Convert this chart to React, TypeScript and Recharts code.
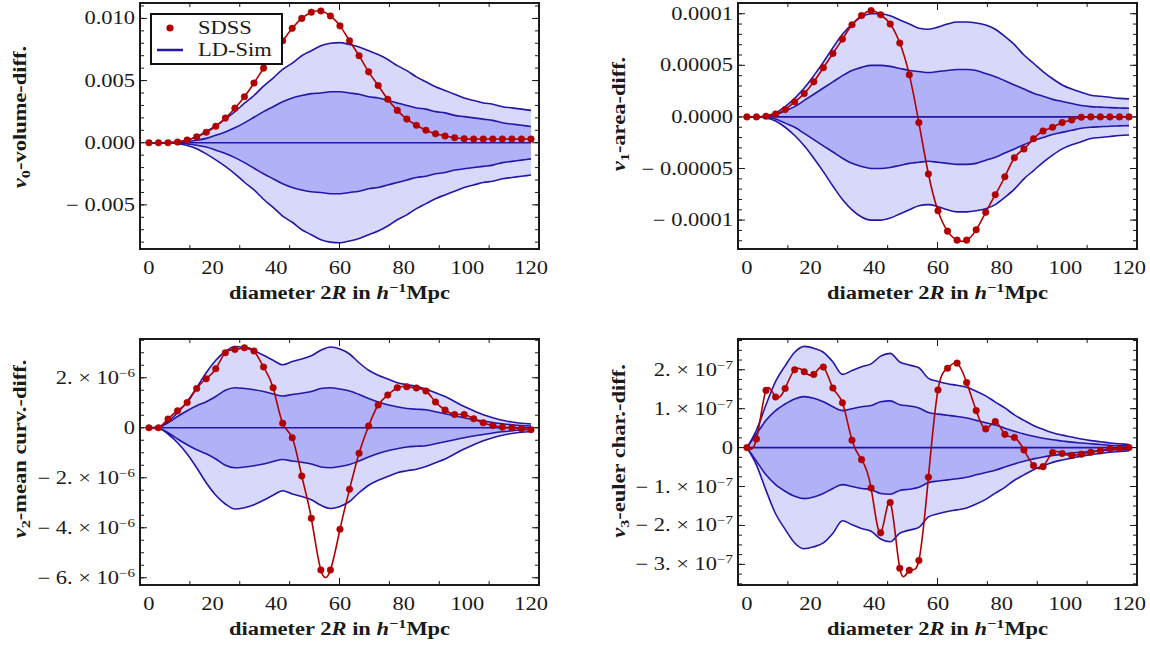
import React from 'react';
import { ComposedChart, Area, Line, XAxis, YAxis, ReferenceLine, Legend } from 'recharts';

// diameter 2R in h^-1 Mpc, same sampling for every panel
const diameters = [0, 3, 6, 9, 12, 15, 18, 21, 24, 27, 30, 33, 36, 39, 42, 45, 48, 51, 54, 57, 60, 63, 66, 69, 72, 75, 78, 81, 84, 87, 90, 93, 96, 99, 102, 105, 108, 111, 114, 117, 120];

// v0 volume
const v0Sdss = [0, 0, 0, 0.00005, 0.00022, 0.00047, 0.00084, 0.00132, 0.00198, 0.00278, 0.0037, 0.0048, 0.006, 0.0072, 0.0082, 0.0092, 0.01, 0.0105, 0.0106, 0.0102, 0.0094, 0.0082, 0.007, 0.0057, 0.0046, 0.0035, 0.0026, 0.0019, 0.0014, 0.001, 0.00072, 0.00054, 0.0004, 0.00032, 0.0003, 0.0003, 0.0003, 0.0003, 0.0003, 0.0003, 0.0003];
const v0Outer = [0, 0, 0.00002, 0.00008, 0.00022, 0.00048, 0.0009, 0.00138, 0.0019, 0.0025, 0.00318, 0.0038, 0.00455, 0.0052, 0.0059, 0.0064, 0.007, 0.0074, 0.0078, 0.008, 0.00805, 0.0079, 0.0077, 0.0074, 0.0071, 0.0067, 0.0062, 0.0058, 0.0053, 0.0049, 0.0045, 0.0042, 0.0039, 0.0036, 0.0034, 0.0032, 0.0031, 0.0029, 0.0028, 0.0027, 0.0026];
const v0Inner = [0, 0, 0.00001, 0.00004, 0.0001, 0.0002, 0.00035, 0.0006, 0.00087, 0.0012, 0.0016, 0.00205, 0.0025, 0.0029, 0.0033, 0.0036, 0.0038, 0.00395, 0.004, 0.0041, 0.0041, 0.004, 0.0039, 0.0037, 0.0036, 0.0034, 0.0032, 0.003, 0.0028, 0.0027, 0.0025, 0.0024, 0.0022, 0.0021, 0.002, 0.0019, 0.0018, 0.0016, 0.0015, 0.0014, 0.0013];

// v1 area
const v1Sdss = [0, 0, 0.7e-6, 2.9e-6, 7.1e-6, 14.6e-6, 22.6e-6, 34e-6, 47.6e-6, 61.5e-6, 75.4e-6, 89.3e-6, 98.3e-6, 103e-6, 99e-6, 90e-6, 71.6e-6, 40.8e-6, -5.5e-6, -55.3e-6, -91e-6, -110.7e-6, -119.4e-6, -119.4e-6, -109.4e-6, -92.5e-6, -75.4e-6, -58e-6, -39.5e-6, -31.1e-6, -21.1e-6, -13.6e-6, -10e-6, -5.5e-6, -2.9e-6, -0.3e-6, 0, 0, 0, 0, 0];
const v1Outer = [0, 0, 1e-6, 4e-6, 10e-6, 18e-6, 28e-6, 40e-6, 53e-6, 67e-6, 80e-6, 90e-6, 97e-6, 100e-6, 100e-6, 98e-6, 94e-6, 90e-6, 86e-6, 85e-6, 87e-6, 90e-6, 92e-6, 92e-6, 91e-6, 89e-6, 85e-6, 78e-6, 70e-6, 60e-6, 52e-6, 44e-6, 37e-6, 31e-6, 27e-6, 24e-6, 21e-6, 20e-6, 19e-6, 18e-6, 17.5e-6];
const v1Inner = [0, 0, 0.5e-6, 2e-6, 6e-6, 10e-6, 16e-6, 22e-6, 28e-6, 34e-6, 40e-6, 45e-6, 48e-6, 50e-6, 50e-6, 49e-6, 47e-6, 45e-6, 44e-6, 43e-6, 44e-6, 45e-6, 46e-6, 46e-6, 45e-6, 42e-6, 39e-6, 35e-6, 31e-6, 27e-6, 23e-6, 20e-6, 17e-6, 15e-6, 13e-6, 11e-6, 10e-6, 9.5e-6, 9e-6, 8.7e-6, 8.4e-6];

// v2 mean curvature, in units of 10^-6
const v2Sdss = [0, 0, 0.35, 0.68, 1.01, 1.57, 1.96, 2.36, 3.0, 3.13, 3.2, 3.07, 2.43, 1.6, 0.18, -0.4, -1.93, -3.62, -5.69, -5.69, -4.06, -2.46, -1.02, 0.07, 0.91, 1.31, 1.6, 1.64, 1.59, 1.47, 1.03, 0.71, 0.53, 0.53, 0.36, 0.2, 0.09, 0.02, 0, -0.04, -0.08];
const v2Outer = [0, 0.02, 0.25, 0.6, 1.05, 1.6, 2.2, 2.7, 3.05, 3.25, 3.2, 3.08, 2.9, 2.7, 2.52, 2.65, 2.75, 2.88, 3.1, 3.23, 3.15, 2.95, 2.6, 2.3, 2.1, 1.95, 1.8, 1.72, 1.66, 1.55, 1.4, 1.25, 1.05, 0.85, 0.68, 0.52, 0.4, 0.3, 0.23, 0.18, 0.15];
const v2Inner = [0, 0.02, 0.2, 0.45, 0.68, 0.88, 1.04, 1.25, 1.5, 1.6, 1.57, 1.52, 1.45, 1.35, 1.27, 1.33, 1.38, 1.45, 1.57, 1.6, 1.55, 1.47, 1.33, 1.17, 1.03, 0.92, 0.84, 0.77, 0.74, 0.72, 0.64, 0.56, 0.48, 0.4, 0.33, 0.27, 0.21, 0.16, 0.12, 0.09, 0.07];

// v3 euler characteristic, in units of 10^-7
const v3Sdss = [0, 0.22, 1.47, 1.3, 1.52, 2.0, 1.95, 1.88, 2.07, 1.53, 1.15, 0.19, -0.31, -1.04, -2.19, -1.41, -3.1, -3.15, -2.9, -0.76, 1.48, 2.04, 2.17, 1.67, 0.95, 0.48, 0.67, 0.34, 0.26, -0.06, -0.46, -0.49, -0.13, -0.15, -0.2, -0.17, -0.12, -0.08, -0.03, -0.03, 0];
const v3Outer = [0, 0.45, 1.1, 1.7, 2.1, 2.45, 2.6, 2.55, 2.45, 2.2, 1.88, 1.98, 2.08, 2.15, 2.35, 2.42, 2.2, 2.12, 2.05, 1.78, 1.7, 1.64, 1.6, 1.55, 1.45, 1.33, 1.17, 1.02, 0.84, 0.7, 0.57, 0.47, 0.38, 0.32, 0.27, 0.22, 0.18, 0.15, 0.12, 0.1, 0.08];
const v3Inner = [0, 0.35, 0.7, 0.95, 1.12, 1.25, 1.31, 1.27, 1.18, 1.05, 0.95, 1.0, 1.05, 1.08, 1.18, 1.2, 1.1, 1.07, 1.02, 0.9, 0.86, 0.83, 0.8, 0.76, 0.7, 0.64, 0.58, 0.5, 0.42, 0.35, 0.29, 0.24, 0.2, 0.17, 0.14, 0.12, 0.1, 0.08, 0.06, 0.05, 0.04];

// ticks
type TickLabel = string | { m: string; e: string };

const xTicks = [0, 20, 40, 60, 80, 100, 120];
const xMinorTicks = [0, 5, 10, 15, 20, 25, 30, 35, 40, 45, 50, 55, 60, 65, 70, 75, 80, 85, 90, 95, 100, 105, 110, 115, 120];

const v0Ticks = [-0.005, 0, 0.005, 0.01];
const v0Labels: TickLabel[] = ['\u2212 0.005', '0.000', '0.005', '0.010'];
const v1Ticks = [-0.0001, -0.00005, 0, 0.00005, 0.0001];
const v1Labels: TickLabel[] = ['\u2212 0.0001', '\u2212 0.00005', '0.0000', '0.00005', '0.0001'];
const v2Ticks = [-6, -4, -2, 0, 2];
const v2Labels: TickLabel[] = [
  { m: '\u2212 6.', e: '\u22126' },
  { m: '\u2212 4.', e: '\u22126' },
  { m: '\u2212 2.', e: '\u22126' },
  '0',
  { m: '2.', e: '\u22126' },
];
const v3Ticks = [-3, -2, -1, 0, 1, 2];
const v3Labels: TickLabel[] = [
  { m: '\u2212 3.', e: '\u22127' },
  { m: '\u2212 2.', e: '\u22127' },
  { m: '\u2212 1.', e: '\u22127' },
  '0',
  { m: '1.', e: '\u22127' },
  { m: '2.', e: '\u22127' },
];

const FONT = "'Liberation Serif', 'Times New Roman', Times, serif";
const STRETCH = 1.25;
const INK = '#1a1a1a';
const SIM = '#2416a6';
const OUTER_FILL = '#d8d8fa';
const INNER_FILL = '#b1b1f8';
const RED = '#b10000';
const X_DOMAIN: [number, number] = [-2.8, 122.5];
const THIN = 0.01; // tick-only axes need a non-zero size to be drawn

function tickRange(lo: number, hi: number, step: number) {
  const out: number[] = [];
  for (let k = Math.ceil(lo / step - 1e-9); k * step <= hi + step * 1e-6; k++) out.push(k * step);
  return out;
}

type Row = { d: number; sdss: number; outer: [number, number]; inner: [number, number] };

function buildRows(sdss: number[], outer: number[], inner: number[]): Row[] {
  return diameters.map((d, i) => ({
    d,
    sdss: sdss[i],
    outer: [-outer[i], outer[i]],
    inner: [-inner[i], inner[i]],
  }));
}

const NoLabel = () => null;
const textStyle: React.CSSProperties = { fontFamily: FONT };

function XTick(props: any) {
  const { x, y, payload } = props;
  return (
    <text transform={`translate(${x},${y + 17}) scale(${STRETCH},1)`} textAnchor="middle" style={textStyle} fontSize={18} fill={INK}>
      {payload.value}
    </text>
  );
}

function makeYTick(ticks: number[], labels: TickLabel[]) {
  return (props: any) => {
    const { x, y, payload } = props;
    const lab = labels[ticks.indexOf(payload.value)];
    if (lab === undefined) return null;
    return (
      <text transform={`translate(${x + 3},${y + 6}) scale(${STRETCH},1)`} textAnchor="end" style={textStyle} fontSize={18} fill={INK}>
        {typeof lab === 'string' ? (
          lab
        ) : (
          <>
            {lab.m + ' \u00d7 10'}
            <tspan dy={-7} fontSize={12}>{lab.e}</tspan>
          </>
        )}
      </text>
    );
  };
}

function XTitle({ cx, y }: { cx: number; y: number }) {
  return (
    <text transform={`translate(${cx},${y}) scale(${STRETCH},1)`} textAnchor="middle" style={textStyle} fontSize={18} fontWeight="bold" fill={INK}>
      diameter 2<tspan fontStyle="italic">R</tspan>{' in '}<tspan fontStyle="italic">h</tspan>
      <tspan dy={-7} fontSize={13}>{'\u22121'}</tspan>
      <tspan dy={7}>Mpc</tspan>
    </text>
  );
}

function YTitle({ x, y, sub, rest }: { x: number; y: number; sub: string; rest: string }) {
  return (
    <text transform={`translate(${x},${y}) rotate(-90) scale(${STRETCH},1)`} textAnchor="middle" style={textStyle} fontSize={18} fontWeight="bold" fill={INK}>
      <tspan fontStyle="italic">v</tspan>
      <tspan dy={4} fontSize={13}>{sub}</tspan>
      <tspan dy={-4}>{rest}</tspan>
    </text>
  );
}

const legendText: React.CSSProperties = {
  position: 'absolute',
  fontFamily: FONT,
  fontSize: 18,
  lineHeight: '18px',
  color: INK,
  whiteSpace: 'nowrap',
  transform: `scaleX(${STRETCH})`,
  transformOrigin: 'left center',
};

function LegendBox() {
  return (
    <div style={{ position: 'relative', width: 133, height: 52, border: '2px solid #111', background: '#fff', boxSizing: 'border-box' }}>
      <svg width={40} height={48} style={{ position: 'absolute', left: 0, top: 0 }}>
        <circle cx={18} cy={13} r={3.6} fill={RED} />
        <line x1={5} x2={31} y1={35} y2={35} stroke={SIM} strokeWidth={2.5} />
      </svg>
      <span style={{ ...legendText, left: 46, top: 4 }}>SDSS</span>
      <span style={{ ...legendText, left: 46, top: 26 }}>LD-Sim</span>
    </div>
  );
}

type PanelProps = {
  left: number;
  top: number;
  width: number;
  height: number;
  plotLeft: number;
  plotRight: number;
  plotTop: number;
  plotBottom: number;
  yDomain: [number, number];
  yTicks: number[];
  yLabels: TickLabel[];
  yStep: number;
  rows: Row[];
  sub: string;
  rest: string;
  titleX: number;
  titleY: number;
  xTitleY: number;
  legend?: boolean;
};

function Panel(p: PanelProps) {
  const yMinor = tickRange(p.yDomain[0], p.yDomain[1], p.yStep);
  const YTick = makeYTick(p.yTicks, p.yLabels);
  const frame = { strokeWidth: 2, strokeLinecap: 'square' as const };
  const common = {
    type: 'number' as const,
    allowDataOverflow: true,
    interval: 0 as const,
    stroke: INK,
    tick: NoLabel,
    tickLine: { stroke: INK, strokeWidth: 1 },
    mirror: true,
  };
  return (
    <div style={{ position: 'absolute', left: p.left, top: p.top, width: p.width, height: p.height }}>
      <ComposedChart
        width={p.width}
        height={p.height}
        data={p.rows}
        margin={{ top: p.plotTop, right: p.width - p.plotRight, bottom: 0, left: 0 }}
      >
        <XAxis
          xAxisId="lab"
          dataKey="d"
          type="number"
          domain={X_DOMAIN}
          allowDataOverflow
          ticks={xTicks}
          interval={0}
          tick={XTick}
          tickLine={false}
          axisLine={false}
          height={p.height - p.plotBottom}
          label={{ content: () => <XTitle cx={(p.plotLeft + p.plotRight) / 2} y={p.xTitleY} /> }}
        />
        <XAxis xAxisId="bM" {...common} domain={X_DOMAIN} ticks={xTicks} height={THIN} tickSize={7} axisLine={frame} />
        <XAxis xAxisId="bm" {...common} domain={X_DOMAIN} ticks={xMinorTicks} height={THIN} tickSize={4} axisLine={false} />
        <XAxis xAxisId="tM" {...common} domain={X_DOMAIN} ticks={xTicks} orientation="top" height={THIN} tickSize={7} axisLine={frame} />
        <XAxis xAxisId="tm" {...common} domain={X_DOMAIN} ticks={xMinorTicks} orientation="top" height={THIN} tickSize={4} axisLine={false} />
        <YAxis
          yAxisId="lab"
          type="number"
          domain={p.yDomain}
          allowDataOverflow
          ticks={p.yTicks}
          interval={0}
          tick={YTick}
          tickLine={false}
          axisLine={false}
          width={p.plotLeft}
          label={{ content: () => <YTitle x={p.titleX} y={p.titleY} sub={p.sub} rest={p.rest} /> }}
        />
        <YAxis yAxisId="lM" {...common} domain={p.yDomain} ticks={p.yTicks} width={THIN} tickSize={7} axisLine={frame} />
        <YAxis yAxisId="lm" {...common} domain={p.yDomain} ticks={yMinor} width={THIN} tickSize={4} axisLine={false} />
        <YAxis yAxisId="rM" {...common} domain={p.yDomain} ticks={p.yTicks} orientation="right" width={THIN} tickSize={7} axisLine={frame} />
        <YAxis yAxisId="rm" {...common} domain={p.yDomain} ticks={yMinor} orientation="right" width={THIN} tickSize={4} axisLine={false} />
        <Area
          xAxisId="lab"
          yAxisId="lab"
          dataKey="outer"
          type="monotone"
          stroke={SIM}
          strokeWidth={1.6}
          fill={OUTER_FILL}
          fillOpacity={1}
          isAnimationActive={false}
        />
        <Area
          xAxisId="lab"
          yAxisId="lab"
          dataKey="inner"
          type="monotone"
          stroke={SIM}
          strokeWidth={1.6}
          fill={INNER_FILL}
          fillOpacity={1}
          isAnimationActive={false}
        />
        <ReferenceLine
          xAxisId="lab"
          yAxisId="lab"
          segment={[{ x: 0, y: 0 }, { x: 120, y: 0 }]}
          stroke={SIM}
          strokeWidth={1.6}
        />
        <Line
          xAxisId="lab"
          yAxisId="lab"
          dataKey="sdss"
          type="natural"
          stroke={RED}
          strokeWidth={1.6}
          dot={{ r: 3.3, fill: RED, stroke: RED, strokeWidth: 0.5 }}
          isAnimationActive={false}
        />
        {p.legend && (
          <Legend
            layout="vertical"
            align="center"
            verticalAlign="middle"
            content={() => <LegendBox />}
            wrapperStyle={{ left: 150, top: 13, width: 133, height: 52 }}
          />
        )}
      </ComposedChart>
    </div>
  );
}

export default function App() {
  return (
    <div style={{ position: 'absolute', left: 0, top: 0, width: 1150, height: 647, background: '#fff', overflow: 'hidden' }}>
      <Panel
        left={0}
        top={0}
        width={575}
        height={320}
        plotLeft={140}
        plotRight={539}
        plotTop={3}
        plotBottom={249}
        yDomain={[-0.00855, 0.01124]}
        yTicks={v0Ticks}
        yLabels={v0Labels}
        yStep={0.001}
        rows={buildRows(v0Sdss, v0Outer, v0Inner)}
        sub="0"
        rest="-volume-diff."
        titleX={26}
        titleY={117}
        xTitleY={299}
        legend
      />
      <Panel
        left={575}
        top={0}
        width={575}
        height={320}
        plotLeft={163}
        plotRight={562}
        plotTop={3}
        plotBottom={249}
        yDomain={[-0.000128, 0.0001104]}
        yTicks={v1Ticks}
        yLabels={v1Labels}
        yStep={0.00001}
        rows={buildRows(v1Sdss, v1Outer, v1Inner)}
        sub="1"
        rest="-area-diff."
        titleX={50}
        titleY={114}
        xTitleY={299}
      />
      <Panel
        left={0}
        top={320}
        width={575}
        height={327}
        plotLeft={140}
        plotRight={539}
        plotTop={19}
        plotBottom={265}
        yDomain={[-6.29, 3.55]}
        yTicks={v2Ticks}
        yLabels={v2Labels}
        yStep={0.5}
        rows={buildRows(v2Sdss, v2Outer, v2Inner)}
        sub="2"
        rest="-mean curv.-diff."
        titleX={26}
        titleY={129}
        xTitleY={315}
      />
      <Panel
        left={575}
        top={320}
        width={575}
        height={327}
        plotLeft={163}
        plotRight={562}
        plotTop={19}
        plotBottom={265}
        yDomain={[-3.53, 2.79]}
        yTicks={v3Ticks}
        yLabels={v3Labels}
        yStep={0.25}
        rows={buildRows(v3Sdss, v3Outer, v3Inner)}
        sub="3"
        rest="-euler char.-diff."
        titleX={50}
        titleY={131}
        xTitleY={315}
      />
    </div>
  );
}
